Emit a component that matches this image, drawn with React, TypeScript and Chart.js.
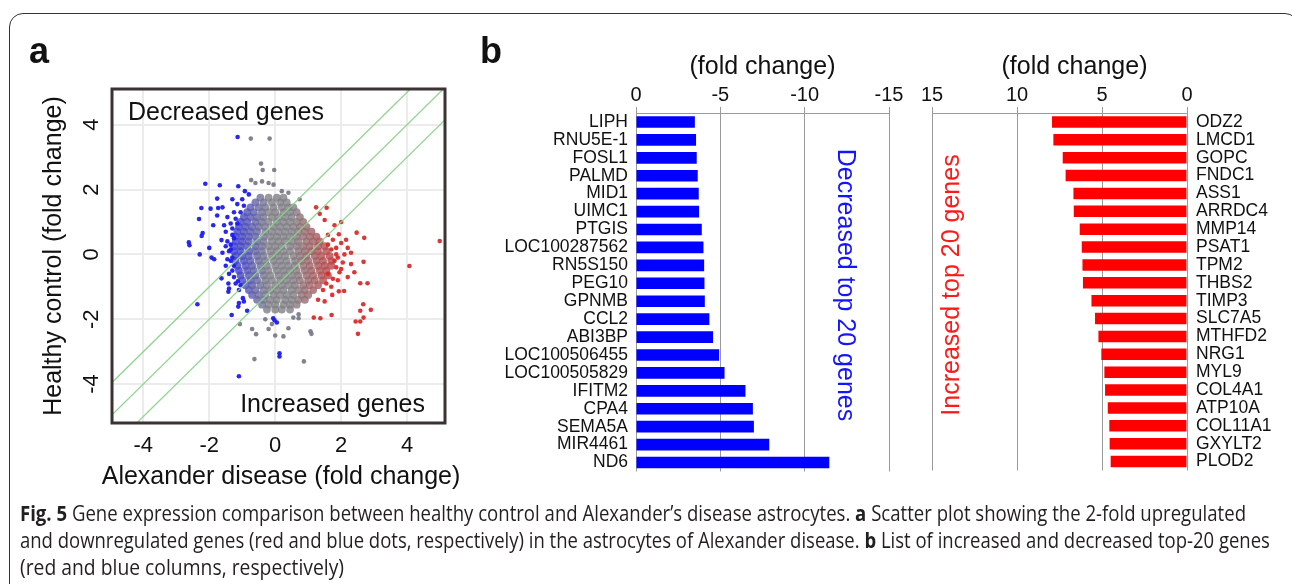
import React, { useEffect, useLayoutEffect, useRef } from "react";
import { Chart, registerables } from "chart.js";

Chart.register(...registerables);

const FONT = "'Liberation Sans', Arial, Helvetica, sans-serif";

// ---------- Panel a: scatter ----------
const scatterXTicks = [-4, -2, 0, 2, 4];
const scatterYTicks = [-4, -2, 0, 2, 4];
const diagonalOffsets = [1, 0, -1];

// dense central cloud, read row by row (y value, x values)
const coreRowY = [1.75, 1.6, 1.45, 1.3, 1.15, 1.0, 0.85, 0.7, 0.55, 0.4, 0.25, 0.1, -0.05, -0.2, -0.35, -0.5, -0.65, -0.8, -0.95, -1.1, -1.25, -1.4, -1.55, -1.7];
const coreRowX = [
  [-0.45, -0.2, 0.05, 0.25],
  [-0.6, -0.35, -0.1, 0.15, 0.35],
  [-0.75, -0.5, -0.3, -0.05, 0.2, 0.4, 0.55],
  [-0.85, -0.65, -0.4, -0.2, 0.0, 0.25, 0.45, 0.65],
  [-0.95, -0.75, -0.55, -0.35, -0.1, 0.1, 0.3, 0.5, 0.75],
  [-1.05, -0.85, -0.6, -0.4, -0.2, 0.05, 0.25, 0.45, 0.65, 0.85],
  [-1.1, -0.9, -0.7, -0.5, -0.3, -0.05, 0.15, 0.35, 0.55, 0.75, 0.95],
  [-1.15, -0.95, -0.75, -0.55, -0.3, -0.1, 0.1, 0.3, 0.5, 0.7, 0.9, 1.1],
  [-1.2, -1.0, -0.8, -0.6, -0.35, -0.15, 0.05, 0.25, 0.45, 0.65, 0.85, 1.05, 1.25],
  [-1.2, -1.0, -0.8, -0.55, -0.35, -0.1, 0.1, 0.3, 0.5, 0.7, 0.95, 1.15, 1.35],
  [-1.25, -1.05, -0.85, -0.6, -0.4, -0.2, 0.0, 0.2, 0.45, 0.65, 0.85, 1.05, 1.3, 1.5],
  [-1.25, -1.05, -0.8, -0.6, -0.4, -0.15, 0.05, 0.25, 0.45, 0.7, 0.9, 1.1, 1.3, 1.55],
  [-1.2, -1.0, -0.8, -0.55, -0.35, -0.1, 0.1, 0.3, 0.55, 0.75, 0.95, 1.2, 1.4, 1.65],
  [-1.2, -0.95, -0.75, -0.5, -0.3, -0.05, 0.15, 0.35, 0.6, 0.8, 1.0, 1.25, 1.45, 1.7],
  [-1.15, -0.9, -0.7, -0.45, -0.25, 0.0, 0.2, 0.4, 0.6, 0.85, 1.05, 1.3, 1.5, 1.7],
  [-1.1, -0.85, -0.65, -0.4, -0.2, 0.05, 0.25, 0.45, 0.65, 0.9, 1.1, 1.35, 1.55],
  [-1.05, -0.8, -0.6, -0.35, -0.15, 0.1, 0.3, 0.5, 0.7, 0.95, 1.15, 1.4, 1.6],
  [-1.0, -0.75, -0.55, -0.3, -0.1, 0.15, 0.35, 0.55, 0.75, 1.0, 1.2, 1.45],
  [-0.9, -0.7, -0.45, -0.25, 0.0, 0.2, 0.4, 0.6, 0.85, 1.05, 1.3],
  [-0.8, -0.6, -0.35, -0.15, 0.05, 0.25, 0.5, 0.7, 0.9, 1.15],
  [-0.7, -0.5, -0.3, -0.05, 0.15, 0.35, 0.55, 0.8, 1.0],
  [-0.55, -0.35, -0.15, 0.05, 0.3, 0.5, 0.7, 0.9],
  [-0.4, -0.2, 0.0, 0.25, 0.45, 0.65],
  [-0.25, 0.0, 0.2, 0.45],
];

const bluePoints: [number, number][] = [
  [-1.14, 3.62], [-2.12, 2.18], [-1.68, 2.13], [-1.12, 2.1], [-0.92, 1.95], [-1.76, 1.72], [-1.3, 1.7],
  [-2.24, 1.43], [-1.96, 1.41], [-1.73, 1.43], [-1.6, 1.45], [-2.31, 1.09], [-1.76, 1.2], [-1.88, 0.9],
  [-1.45, 1.15], [-1.35, 0.95], [-2.23, 0.57], [-2.2, 0.66], [-2.6, 0.28], [-2.62, 0.37], [-2.29, 0.0],
  [-2.0, 0.2], [-1.93, -0.1], [-1.85, -0.15], [-1.63, 0.44], [-1.6, 0.05], [-1.5, 0.7], [-1.45, 0.4],
  [-1.4, 0.1], [-1.35, -0.2], [-1.5, -0.35], [-1.63, -0.74], [-1.42, -1.15], [-1.4, -1.05], [-1.42, -0.9],
  [-1.12, -1.61], [-1.1, -1.5], [-0.98, -1.35], [-0.95, -1.45], [-0.85, -1.74], [-1.13, -0.83],
  [-1.05, -0.95], [-1.1, -1.1], [-2.36, -1.54], [-1.32, -1.87], [-1.1, -3.76], [-0.06, -1.97],
  [-0.02, -2.03], [0.05, -2.1], [0.13, -3.15], [0.13, -3.05], [-1.3, 0.6], [-1.35, 0.3], [-1.3, -0.5],
  [-1.25, -0.7], [-1.55, 0.9], [-1.25, 1.3], [-1.15, 1.55], [-1.0, 1.7], [-0.8, 1.85], [-1.3, 0.8],
  [-1.25, 0.5], [-1.35, 0.15], [-1.3, -0.1], [-1.25, -0.35], [-1.4, -0.6], [-1.2, -0.9], [-1.15, 0.95],
  [-1.45, -0.15], [-1.5, 0.25], [-1.2, 1.1], [-1.05, 1.3], [-0.95, 1.5],
];

const greyPoints: [number, number][] = [
  [-0.74, 3.57], [-0.17, 3.57], [-0.43, 2.8], [-0.38, 2.6], [-0.03, 2.6], [-0.73, 2.29], [-0.6, 2.2],
  [-0.4, 2.25], [-0.2, 2.2], [-0.05, 2.15], [0.2, 1.95], [0.4, 1.9], [0.74, 1.7], [-1.07, -2.15],
  [-0.63, -3.23], [-0.7, -2.3], [-0.58, -2.46], [-0.3, -2.0], [-0.2, -2.3], [0.0, -2.5], [-0.1, -2.15],
  [0.25, -2.53], [0.4, -2.28], [0.71, -1.97], [0.71, -1.85], [0.87, -3.3], [1.07, -2.37], [1.1, -2.45],
  [0.55, -1.95],
];

const redPoints: [number, number][] = [
  [4.99, 0.41], [4.07, -0.36], [1.24, 1.45], [1.56, 1.44], [1.5, 1.06], [2.47, 0.67], [2.7, 0.51],
  [1.93, 0.62], [2.0, 0.35], [2.2, 0.2], [2.3, 0.05], [2.1, 0.0], [1.9, -0.1], [2.05, -0.25], [2.3, -0.3],
  [2.68, -0.23], [2.8, -0.89], [2.58, -0.89], [2.67, -1.54], [2.9, -1.71], [2.58, -1.74], [2.68, -1.95],
  [2.44, -2.07], [2.58, -2.07], [2.51, -2.45], [1.71, -1.87], [1.93, -1.14], [2.09, -1.13], [1.73, -1.25],
  [1.37, -1.97], [1.17, -1.95], [1.3, -1.4], [1.5, -1.45], [1.8, 0.9], [2.15, 0.45], [1.75, 0.45],
  [1.85, 0.2], [2.4, -0.55], [2.2, -0.7], [1.95, -0.55], [1.9, -0.8], [1.7, -1.0], [1.6, 0.6],
  [1.85, -0.4], [2.0, 1.0], [1.35, 1.25], [1.6, -0.6], [1.75, -0.75], [1.8, -0.2], [1.6, 0.3],
  [1.85, 0.0], [1.55, -0.9], [1.45, -1.1], [2.0, -0.45], [1.7, 0.15],
];

// ---------- Panel b: bars ----------
const decreasedGenes = ["LIPH", "RNU5E-1", "FOSL1", "PALMD", "MID1", "UIMC1", "PTGIS", "LOC100287562", "RN5S150", "PEG10", "GPNMB", "CCL2", "ABI3BP", "LOC100506455", "LOC100505829", "IFITM2", "CPA4", "SEMA5A", "MIR4461", "ND6"];
const decreasedFold = [-3.49, -3.56, -3.6, -3.66, -3.72, -3.74, -3.9, -4.0, -4.04, -4.06, -4.08, -4.35, -4.57, -4.93, -5.25, -6.49, -6.93, -6.99, -7.9, -11.46];
const increasedGenes = ["ODZ2", "LMCD1", "GOPC", "FNDC1", "ASS1", "ARRDC4", "MMP14", "PSAT1", "TPM2", "THBS2", "TIMP3", "SLC7A5", "MTHFD2", "NRG1", "MYL9", "COL4A1", "ATP10A", "COL11A1", "GXYLT2", "PLOD2"];
const increasedFold = [7.94, 7.86, 7.31, 7.14, 6.68, 6.66, 6.31, 6.19, 6.15, 6.12, 5.62, 5.41, 5.21, 5.04, 4.86, 4.82, 4.66, 4.57, 4.55, 4.49];
const barTickStep = 5;

const captionLines = [
  [["Fig. 5", true], [" Gene expression comparison between healthy control and Alexander’s disease astrocytes. ", false], ["a", true], [" Scatter plot showing the 2-fold upregulated", false]],
  [["and downregulated genes (red and blue dots, respectively) in the astrocytes of Alexander disease. ", false], ["b", true], [" List of increased and decreased top-20 genes", false]],
  [["(red and blue columns, respectively)", false]],
] as [string, boolean][][];
const captionLineWidths = [1226, 1250, 352];

// ---------- helpers ----------
function mix(a: number[], b: number[], t: number) {
  return a.map((v, i) => Math.round(v + (b[i] - v) * t));
}
function coreColor(x: number) {
  const grey = [128, 128, 134];
  const blue = [45, 45, 225];
  const red = [205, 55, 55];
  let c = grey;
  if (x < -0.2) c = mix(grey, blue, Math.min(1, (-0.2 - x) / 0.9) * 0.75);
  else if (x > 0.5) c = mix(grey, red, Math.min(1, (x - 0.5) / 1.1) * 0.75);
  return `rgba(${c[0]},${c[1]},${c[2]},0.8)`;
}

function txt(ctx: CanvasRenderingContext2D, s: string, x: number, y: number, font: string, color: string, align: CanvasTextAlign, baseline: CanvasTextBaseline, rot = 0) {
  ctx.save();
  ctx.font = font;
  ctx.fillStyle = color;
  ctx.textAlign = align;
  ctx.textBaseline = baseline;
  ctx.translate(x, y);
  if (rot) ctx.rotate(rot);
  ctx.fillText(s, 0, 0);
  ctx.restore();
}

const scatterTextPlugin = {
  id: "scatterText",
  afterDraw(chart: any) {
    const { ctx, chartArea: ca, scales } = chart;
    ctx.save();
    ctx.strokeStyle = "#3b3333";
    ctx.lineWidth = 3;
    ctx.strokeRect(ca.left, ca.top, ca.right - ca.left, ca.bottom - ca.top);
    ctx.restore();
    const tickFont = `22px ${FONT}`;
    scatterXTicks.forEach((v) => txt(ctx, String(v), scales.x.getPixelForValue(v), 452, tickFont, "#111", "center", "alphabetic"));
    scatterYTicks.forEach((v) => txt(ctx, String(v), 92, scales.y.getPixelForValue(v), tickFont, "#111", "center", "middle", -Math.PI / 2));
    const f25 = `25px ${FONT}`;
    txt(ctx, "Healthy control (fold change)", 61, (ca.top + ca.bottom) / 2, f25, "#111", "center", "alphabetic", -Math.PI / 2);
    txt(ctx, "Alexander disease (fold change)", 281, 484, f25, "#111", "center", "alphabetic");
    txt(ctx, "Decreased genes", ca.left + 16, ca.top + 31, f25, "#111", "left", "alphabetic");
    txt(ctx, "Increased genes", ca.right - 20, ca.bottom - 11, f25, "#111", "right", "alphabetic");
    txt(ctx, "a", 29, 63, `bold 36px ${FONT}`, "#111", "left", "alphabetic");
  },
};

const leftBarText = {
  id: "leftBarText",
  afterDraw(chart: any) {
    const { ctx, chartArea: ca } = chart;
    txt(ctx, "(fold change)", (ca.left + ca.right) / 2, 44, `25px ${FONT}`, "#111", "center", "alphabetic");
    txt(ctx, "Decreased top 20 genes", 365, 255, `25px ${FONT}`, "#1414ff", "center", "middle", Math.PI / 2);
    txt(ctx, "b", 0, 33, `bold 36px ${FONT}`, "#111", "left", "alphabetic");
  },
};

const rightBarText = {
  id: "rightBarText",
  afterDraw(chart: any) {
    const { ctx, chartArea: ca } = chart;
    txt(ctx, "(fold change)", (ca.left + ca.right) / 2 + 15, 44, `25px ${FONT}`, "#111", "center", "alphabetic");
    txt(ctx, "Increased top 20 genes", 37, 255, `25px ${FONT}`, "#ff1a1a", "center", "middle", -Math.PI / 2);
  },
};

function scatterConfig(): any {
  const pts = (arr: [number, number][]) => arr.map(([x, y]) => ({ x, y }));
  const core: { x: number; y: number }[] = [];
  coreRowY.forEach((y, i) => coreRowX[i].forEach((x) => core.push({ x, y })));
  return {
    type: "scatter",
    data: {
      datasets: [
        ...diagonalOffsets.map((c) => ({
          type: "line",
          data: [{ x: -7, y: -7 + c }, { x: 7, y: 7 + c }],
          borderColor: "rgba(140,210,140,0.95)",
          borderWidth: 1.3,
          pointRadius: 0,
          fill: false,
          order: 0,
        })),
        { data: pts(bluePoints), backgroundColor: "rgba(30,30,235,0.95)", pointRadius: 2.3, borderWidth: 0, order: 1 },
        { data: pts(redPoints), backgroundColor: "rgba(215,45,45,0.95)", pointRadius: 2.3, borderWidth: 0, order: 1 },
        { data: pts(greyPoints), backgroundColor: "rgba(120,120,135,0.92)", pointRadius: 2.3, borderWidth: 0, order: 2 },
        { data: core, backgroundColor: (c: any) => coreColor(c.raw ? c.raw.x : 0), pointRadius: 3.9, borderWidth: 0, order: 3 },
      ],
    },
    options: {
      animation: false,
      responsive: false,
      layout: { padding: { top: 89, right: 35, left: 0, bottom: 0 } },
      plugins: { legend: { display: false }, tooltip: { enabled: false } },
      scales: {
        x: {
          type: "linear", min: -4.95, max: 5.15,
          afterBuildTicks: (s: any) => { s.ticks = scatterXTicks.map((v) => ({ value: v })); },
          ticks: { display: false },
          grid: { color: "#ececec", lineWidth: 2, drawTicks: false },
          border: { display: false },
          afterFit: (s: any) => { s.height = 77; },
        },
        y: {
          type: "linear", min: -5.2, max: 5.1,
          afterBuildTicks: (s: any) => { s.ticks = scatterYTicks.map((v) => ({ value: v })); },
          ticks: { display: false },
          grid: { color: "#ececec", lineWidth: 2, drawTicks: false },
          border: { display: false },
          afterFit: (s: any) => { s.width = 112; },
        },
      },
    },
    plugins: [scatterTextPlugin],
  };
}

function barConfig(side: "left" | "right"): any {
  const isLeft = side === "left";
  return {
    type: "bar",
    data: {
      labels: isLeft ? decreasedGenes : increasedGenes,
      datasets: [{
        data: isLeft ? decreasedFold : increasedFold,
        backgroundColor: isLeft ? "#0000ff" : "#ff0000",
        barPercentage: 0.65,
        categoryPercentage: 1,
      }],
    },
    options: {
      indexAxis: "y",
      animation: false,
      responsive: false,
      layout: { padding: isLeft ? { top: 0, right: 26, bottom: 18, left: 0 } : { top: 0, right: 0, bottom: 18, left: 17 } },
      plugins: { legend: { display: false }, tooltip: { enabled: false } },
      scales: {
        x: {
          type: "linear", position: "top",
          min: isLeft ? -15 : 0, max: isLeft ? 0 : 15, reverse: true,
          ticks: { stepSize: barTickStep, font: { family: FONT, size: 20 }, color: "#111", padding: 0 },
          grid: { color: "#9a9a9a", lineWidth: 1, tickLength: 6 },
          border: { color: "#9a9a9a", width: 1 },
          afterFit: (s: any) => { s.height = 83; },
        },
        y: {
          position: isLeft ? "left" : "right",
          ticks: { font: { family: FONT, size: 17.5 }, color: "#111", padding: isLeft ? 8 : 9, autoSkip: false },
          grid: { display: false, drawTicks: false },
          border: { display: false },
          afterFit: (s: any) => { s.width = isLeft ? 156 : 105; },
        },
      },
    },
    plugins: [isLeft ? leftBarText : rightBarText],
  };
}

function ChartCanvas({ make, left, top, width, height }: { make: () => any; left: number; top: number; width: number; height: number }) {
  const ref = useRef<HTMLCanvasElement>(null);
  useEffect(() => {
    const chart = new Chart(ref.current as HTMLCanvasElement, make());
    return () => chart.destroy();
  }, []);
  return <canvas ref={ref} width={width} height={height} style={{ position: "absolute", left, top, width, height }} />;
}

function Caption() {
  const refs = useRef<(HTMLDivElement | null)[]>([]);
  useLayoutEffect(() => {
    const fit = () => {
      const scales: number[] = [];
      refs.current.forEach((el, i) => {
        if (!el) return;
        el.style.transform = "none";
        const w = el.scrollWidth;
        let s = captionLineWidths[i] / w;
        if (i === 2 && scales[0]) s = Math.min(s, scales[0] * 1.04);
        scales.push(s);
        el.style.transform = `scaleX(${s})`;
      });
    };
    fit();
    if ((document as any).fonts) (document as any).fonts.ready.then(fit);
  }, []);
  return (
    <>
      {captionLines.map((line, i) => (
        <div
          key={i}
          ref={(el) => { refs.current[i] = el; }}
          style={{
            position: "absolute", left: 20, top: 500 + i * 27, height: 27, lineHeight: "27px",
            whiteSpace: "nowrap", transformOrigin: "0 50%", display: "inline-block",
            fontFamily: "'Open Sans', 'Noto Sans', sans-serif", fontSize: 21, color: "#231f20",
          }}
        >
          {line.map(([t, b], j) => (b ? <b key={j}>{t}</b> : <span key={j}>{t}</span>))}
        </div>
      ))}
    </>
  );
}

export default function App() {
  return (
    <div style={{ position: "absolute", left: 0, top: 0, width: 1292, height: 584, overflow: "hidden", background: "#fff" }}>
      <div style={{ position: "absolute", left: 9, top: 13, width: 1290, height: 640, border: "1.5px solid #333", borderRadius: 14, boxSizing: "border-box" }} />
      <ChartCanvas make={scatterConfig} left={0} top={0} width={480} height={500} />
      <ChartCanvas make={() => barConfig("left")} left={480} top={30} width={435} height={460} />
      <ChartCanvas make={() => barConfig("right")} left={915} top={30} width={377} height={460} />
      <Caption />
    </div>
  );
}
